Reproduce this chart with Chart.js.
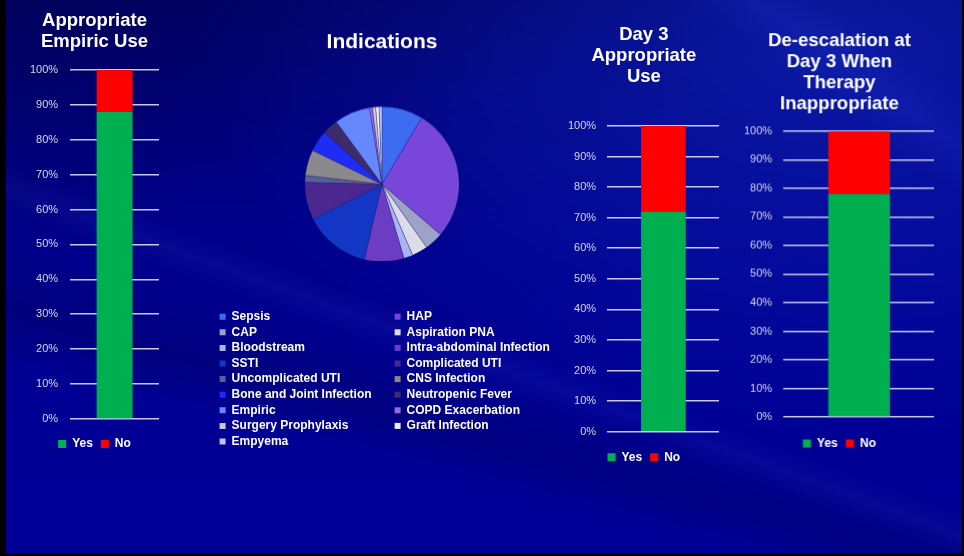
<!DOCTYPE html>
<html>
<head>
<meta charset="utf-8">
<title>Antibiotic Use Review</title>
<script src="https://cdn.jsdelivr.net/npm/chart.js@4/dist/chart.umd.min.js"></script>
<style>
  html, body { margin: 0; padding: 0; background: #000; }
  #slide {
    position: relative;
    width: 956px;
    height: 553px;
    margin-left: 6px;
    overflow: hidden;
    background:
      linear-gradient(200deg, rgba(80,110,255,0) 0%, rgba(80,110,255,0) 57%, rgba(110,140,255,0.06) 59.5%, rgba(80,110,255,0) 62%),
      linear-gradient(215deg, rgba(60,90,255,0) 8%, rgba(60,90,255,0.10) 12%, rgba(60,90,255,0) 16%),
      linear-gradient(195deg, rgba(0,0,60,0) 62%, rgba(0,0,60,0.22) 70%, rgba(0,0,60,0) 76%),
      linear-gradient(160deg, rgba(0,0,40,0.25) 0%, rgba(0,0,40,0) 30%),
      radial-gradient(ellipse at 88% 8%, rgba(20,50,210,0.5), rgba(20,50,210,0) 55%),
      linear-gradient(180deg, #00006e 0%, #00008a 40%, #000094 75%, #000098 100%);
  }
  .box { position: absolute; }
</style>
</head>
<body>
<div id="slide">
  <div class="box" style="left:24px;top:0;width:129px;height:460px"><canvas id="empiricChart"></canvas></div>
  <div class="box" style="left:244.5px;top:0;width:262px;height:260.8px"><canvas id="indicationChart"></canvas></div>
  <div class="box" style="left:204px;top:295px;width:200px;height:180px"><canvas id="legendLeft"></canvas></div>
  <div class="box" style="left:379px;top:295px;width:200px;height:180px"><canvas id="legendRight"></canvas></div>
  <div class="box" style="left:561.6px;top:0;width:151.7px;height:473.2px"><canvas id="day3Chart"></canvas></div>
  <div class="box" style="left:738.2px;top:0;width:189.8px;height:458.5px"><canvas id="deescChart"></canvas></div>
</div>

<script>
// ---- data ----
const indicationLabels = [
  'Sepsis', 'HAP', 'CAP', 'Aspiration PNA', 'Bloodstream', 'Intra-abdominal Infection',
  'SSTI', 'Complicated UTI', 'Uncomplicated UTI', 'CNS Infection', 'Bone and Joint Infection',
  'Neutropenic Fever', 'Empiric', 'COPD Exacerbation', 'Surgery Prophylaxis', 'Graft Infection', 'Empyema'
];
const indicationShares = [8.6, 27.7, 3.9, 3.3, 1.9, 8.3, 13.9, 7.8, 1.4, 5.4, 4.4, 3.3, 7.5, 0.6, 0.7, 0.7, 0.6];
const indicationColors = [
  '#3d6cf2', '#7846d8', '#9ea2c6', '#dcdce8', '#a9b4f2', '#6c3cc2',
  '#1436c4', '#4a2890', '#5a5f9a', '#8a8a8e', '#1f2cf5',
  '#3c2c6a', '#6688ff', '#9a66e0', '#c8c8d8', '#f0f0f4', '#c0c4f4'
];

const answerLabels = ['Yes', 'No'];
const answerColors = ['#00b050', '#ff0000'];

const empiricYes = [88];
const empiricNo = [12];
const day3Yes = [72];
const day3No = [28];
const deescYes = [78];
const deescNo = [22];

const percentTicks = [0, 10, 20, 30, 40, 50, 60, 70, 80, 90, 100];

// ---- shared styling ----
Chart.defaults.font.family = '"Liberation Sans", Arial, Helvetica, sans-serif';
Chart.defaults.animation = false;
Chart.defaults.responsive = true;
Chart.defaults.maintainAspectRatio = false;

const titleFont = { size: 18.5, weight: 'bold', lineHeight: 1.15 };
const legendFont = { size: 12, weight: 'bold' };

function stackedPercentChart(id, titleLines, yes, no, layout) {
  return new Chart(document.getElementById(id), {
    type: 'bar',
    data: {
      labels: [''],
      datasets: [
        { label: answerLabels[0], data: yes, backgroundColor: answerColors[0], borderWidth: 0 },
        { label: answerLabels[1], data: no, backgroundColor: answerColors[1], borderWidth: 0 }
      ]
    },
    options: {
      layout: { padding: 0 },
      datasets: { bar: { barPercentage: layout.barShare, categoryPercentage: 1 } },
      scales: {
        x: {
          stacked: true,
          grid: { display: false },
          border: { display: false },
          ticks: { display: false },
          afterFit: s => { s.height = layout.legendGap; }
        },
        y: {
          stacked: true,
          min: 0,
          max: 100,
          afterBuildTicks: s => { s.ticks = percentTicks.map(v => ({ value: v })); },
          // keep only the gap between the labels and the plot, not a second one on the outside
          afterFit: s => { s.width -= layout.tickPad; },
          border: { display: false },
          grid: { color: 'rgba(235,235,255,0.85)', lineWidth: 1.5, drawTicks: false },
          ticks: {
            padding: layout.tickPad,
            color: '#d6d6e8',
            font: { size: 11 },
            callback: v => v + '%'
          }
        }
      },
      plugins: {
        title: {
          display: true,
          text: titleLines,
          color: '#ffffff',
          font: titleFont,
          padding: { top: layout.titleTop, bottom: layout.titleBottom }
        },
        legend: {
          position: 'bottom',
          labels: { color: '#ffffff', font: legendFont, boxWidth: 8, boxHeight: 8, padding: 8 }
        },
        tooltip: { enabled: false }
      }
    }
  });
}

stackedPercentChart('empiricChart', ['Appropriate', 'Empiric Use'], empiricYes, empiricNo,
  { titleTop: 10.35, titleBottom: 17.05, tickPad: 12, legendGap: 11.1, barShare: 0.404 });

stackedPercentChart('day3Chart', ['Day 3', 'Appropriate', 'Use'], day3Yes, day3No,
  { titleTop: 23.85, titleBottom: 38.25, tickPad: 11, legendGap: 11.5, barShare: 0.397 });

stackedPercentChart('deescChart', ['De-escalation at', 'Day 3 When', 'Therapy', 'Inappropriate'], deescYes, deescNo,
  { titleTop: 29.85, titleBottom: 15.95, tickPad: 11, legendGap: 12.5, barShare: 0.407 });

// ---- indications pie ----
new Chart(document.getElementById('indicationChart'), {
  type: 'pie',
  data: {
    labels: indicationLabels,
    datasets: [{
      data: indicationShares,
      backgroundColor: indicationColors,
      borderColor: 'rgba(30,30,110,0.55)',
      borderWidth: 0.6
    }]
  },
  options: {
    layout: { padding: 0 },
    plugins: {
      title: {
        display: true,
        text: 'Indications',
        color: '#ffffff',
        font: { size: 21, weight: 'bold', lineHeight: 1.15 },
        padding: { top: 29.9, bottom: 51.95 }
      },
      legend: { display: false },
      tooltip: { enabled: false }
    }
  }
});

// legend for the pie, split into two columns (even / odd entries)
function indicationLegend(id, keep) {
  return new Chart(document.getElementById(id), {
    type: 'pie',
    data: {
      labels: indicationLabels,
      datasets: [{ data: indicationShares, backgroundColor: indicationColors, borderWidth: 0 }]
    },
    options: {
      radius: 0,
      layout: { padding: { left: 6, top: 12.1 } },
      plugins: {
        title: { display: false },
        tooltip: { enabled: false },
        legend: {
          position: 'left',
          align: 'start',
          maxWidth: 200,
          labels: {
            color: '#ffffff',
            font: legendFont,
            boxWidth: 6,
            boxHeight: 6,
            padding: 3.6,
            filter: item => item.index % 2 === keep
          }
        }
      }
    }
  });
}

indicationLegend('legendLeft', 0);
indicationLegend('legendRight', 1);
</script>
</body>
</html>
